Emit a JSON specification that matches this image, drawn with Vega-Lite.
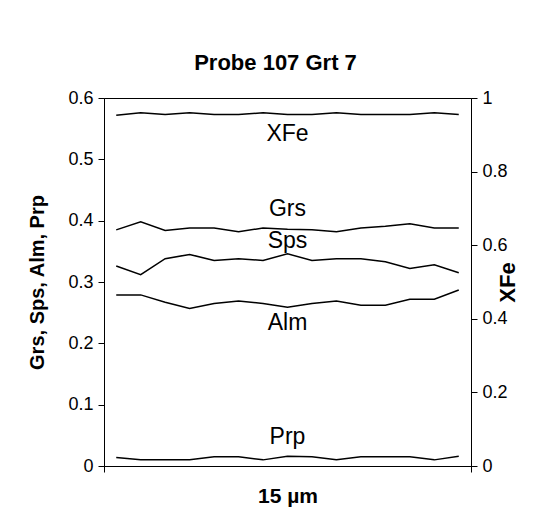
{
  "$schema": "https://vega.github.io/schema/vega-lite/v6.json",
  "autosize": {"type": "none"},
  "padding": {"left": 104, "top": 98, "right": 87, "bottom": 58},
  "width": 367,
  "height": 368,
  "background": "white",
  "title": {"text": "Probe 107 Grt 7", "fontSize": 22, "font": "Liberation Sans", "fontWeight": "bold", "color": "black", "anchor": "middle", "offset": 14, "dx": -12},
  "config": {
    "view": {"stroke": "black", "strokeWidth": 1},
    "font": "Liberation Sans",
    "axis": {"domainColor": "black", "tickColor": "black", "labelColor": "black", "titleColor": "black", "grid": false, "labelFont": "Liberation Sans", "titleFont": "Liberation Sans", "tickSize": 6, "domainWidth": 1, "tickWidth": 1}
  },
  "data": {"values": [
    {"pos": 1, "series": "Grs", "value": 0.385}, {"pos": 2, "series": "Grs", "value": 0.398}, {"pos": 3, "series": "Grs", "value": 0.384}, {"pos": 4, "series": "Grs", "value": 0.388}, {"pos": 5, "series": "Grs", "value": 0.388}, {"pos": 6, "series": "Grs", "value": 0.382}, {"pos": 7, "series": "Grs", "value": 0.388}, {"pos": 8, "series": "Grs", "value": 0.386}, {"pos": 9, "series": "Grs", "value": 0.385}, {"pos": 10, "series": "Grs", "value": 0.382}, {"pos": 11, "series": "Grs", "value": 0.388}, {"pos": 12, "series": "Grs", "value": 0.391}, {"pos": 13, "series": "Grs", "value": 0.395}, {"pos": 14, "series": "Grs", "value": 0.388}, {"pos": 15, "series": "Grs", "value": 0.388},
    {"pos": 1, "series": "Sps", "value": 0.326}, {"pos": 2, "series": "Sps", "value": 0.312}, {"pos": 3, "series": "Sps", "value": 0.338}, {"pos": 4, "series": "Sps", "value": 0.345}, {"pos": 5, "series": "Sps", "value": 0.335}, {"pos": 6, "series": "Sps", "value": 0.338}, {"pos": 7, "series": "Sps", "value": 0.335}, {"pos": 8, "series": "Sps", "value": 0.346}, {"pos": 9, "series": "Sps", "value": 0.335}, {"pos": 10, "series": "Sps", "value": 0.338}, {"pos": 11, "series": "Sps", "value": 0.338}, {"pos": 12, "series": "Sps", "value": 0.333}, {"pos": 13, "series": "Sps", "value": 0.322}, {"pos": 14, "series": "Sps", "value": 0.328}, {"pos": 15, "series": "Sps", "value": 0.315},
    {"pos": 1, "series": "Alm", "value": 0.279}, {"pos": 2, "series": "Alm", "value": 0.279}, {"pos": 3, "series": "Alm", "value": 0.267}, {"pos": 4, "series": "Alm", "value": 0.257}, {"pos": 5, "series": "Alm", "value": 0.265}, {"pos": 6, "series": "Alm", "value": 0.269}, {"pos": 7, "series": "Alm", "value": 0.265}, {"pos": 8, "series": "Alm", "value": 0.259}, {"pos": 9, "series": "Alm", "value": 0.265}, {"pos": 10, "series": "Alm", "value": 0.269}, {"pos": 11, "series": "Alm", "value": 0.262}, {"pos": 12, "series": "Alm", "value": 0.262}, {"pos": 13, "series": "Alm", "value": 0.272}, {"pos": 14, "series": "Alm", "value": 0.272}, {"pos": 15, "series": "Alm", "value": 0.287},
    {"pos": 1, "series": "Prp", "value": 0.014}, {"pos": 2, "series": "Prp", "value": 0.010}, {"pos": 3, "series": "Prp", "value": 0.010}, {"pos": 4, "series": "Prp", "value": 0.010}, {"pos": 5, "series": "Prp", "value": 0.015}, {"pos": 6, "series": "Prp", "value": 0.015}, {"pos": 7, "series": "Prp", "value": 0.010}, {"pos": 8, "series": "Prp", "value": 0.016}, {"pos": 9, "series": "Prp", "value": 0.015}, {"pos": 10, "series": "Prp", "value": 0.010}, {"pos": 11, "series": "Prp", "value": 0.015}, {"pos": 12, "series": "Prp", "value": 0.015}, {"pos": 13, "series": "Prp", "value": 0.015}, {"pos": 14, "series": "Prp", "value": 0.010}, {"pos": 15, "series": "Prp", "value": 0.016},
    {"pos": 1, "series": "XFe", "value": 0.953}, {"pos": 2, "series": "XFe", "value": 0.960}, {"pos": 3, "series": "XFe", "value": 0.955}, {"pos": 4, "series": "XFe", "value": 0.960}, {"pos": 5, "series": "XFe", "value": 0.955}, {"pos": 6, "series": "XFe", "value": 0.955}, {"pos": 7, "series": "XFe", "value": 0.960}, {"pos": 8, "series": "XFe", "value": 0.955}, {"pos": 9, "series": "XFe", "value": 0.955}, {"pos": 10, "series": "XFe", "value": 0.960}, {"pos": 11, "series": "XFe", "value": 0.955}, {"pos": 12, "series": "XFe", "value": 0.955}, {"pos": 13, "series": "XFe", "value": 0.955}, {"pos": 14, "series": "XFe", "value": 0.960}, {"pos": 15, "series": "XFe", "value": 0.955}
  ]},
  "encoding": {
    "x": {"field": "pos", "type": "quantitative", "scale": {"domain": [0.5, 15.5], "nice": false, "zero": false},
          "axis": {"values": [0.5, 15.5], "labels": false, "title": "15 µm", "titleFontSize": 21, "titleFontWeight": "bold", "titlePadding": 13}}
  },
  "layer": [
    {
      "transform": [{"filter": "datum.series !== 'XFe'"}],
      "encoding": {
        "y": {"field": "value", "type": "quantitative", "scale": {"domain": [0, 0.6], "nice": false},
              "axis": {"orient": "left", "values": [0, 0.1, 0.2, 0.3, 0.4, 0.5, 0.6], "format": "~g", "labelFontSize": 18, "labelPadding": 5, "title": "Grs, Sps, Alm, Prp", "titleFontSize": 20, "titleFontWeight": "bold", "titlePadding": 20}}
      },
      "layer": [
        {"mark": {"type": "line", "color": "black", "strokeWidth": 1.5}, "encoding": {"detail": {"field": "series"}}},
        {"transform": [{"filter": "datum.pos === 8 && datum.series === 'Grs'"}], "mark": {"type": "text", "fontSize": 23, "color": "black", "dy": -20, "baseline": "middle"}, "encoding": {"text": {"field": "series"}}},
        {"transform": [{"filter": "datum.pos === 8 && datum.series === 'Sps'"}], "mark": {"type": "text", "fontSize": 23, "color": "black", "dy": -13, "baseline": "middle"}, "encoding": {"text": {"field": "series"}}},
        {"transform": [{"filter": "datum.pos === 8 && datum.series === 'Alm'"}], "mark": {"type": "text", "fontSize": 23, "color": "black", "dy": 16, "baseline": "middle"}, "encoding": {"text": {"field": "series"}}},
        {"transform": [{"filter": "datum.pos === 8 && datum.series === 'Prp'"}], "mark": {"type": "text", "fontSize": 23, "color": "black", "dy": -19, "baseline": "middle"}, "encoding": {"text": {"field": "series"}}}
      ]
    },
    {
      "transform": [{"filter": "datum.series === 'XFe'"}],
      "encoding": {
        "y": {"field": "value", "type": "quantitative", "scale": {"domain": [0, 1], "nice": false},
              "axis": {"orient": "right", "values": [0, 0.2, 0.4, 0.6, 0.8, 1], "format": "~g", "labelFontSize": 18, "labelPadding": 5, "title": "XFe", "titleFontSize": 22, "titleFontWeight": "bold", "titleAngle": 270, "titlePadding": 12}}
      },
      "layer": [
        {"mark": {"type": "line", "color": "black", "strokeWidth": 1.5}},
        {"transform": [{"filter": "datum.pos === 8"}], "mark": {"type": "text", "fontSize": 23, "color": "black", "dy": 19, "baseline": "middle"}, "encoding": {"text": {"field": "series"}}}
      ]
    }
  ],
  "resolve": {"scale": {"y": "independent"}}
}
